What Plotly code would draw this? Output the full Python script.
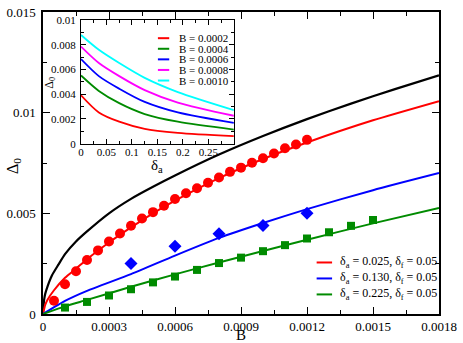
import numpy as np
import plotly.graph_objects as go

# ---------------- data ----------------
# main panel: symbols
B_red_pts = [0.00005, 0.0001, 0.00015, 0.0002, 0.00025, 0.0003, 0.00035, 0.0004,
             0.00045, 0.0005, 0.00055, 0.0006, 0.00065, 0.0007, 0.00075, 0.0008,
             0.00085, 0.0009, 0.00095, 0.001, 0.00105, 0.0011, 0.00115, 0.0012]
red_pts = [0.00066, 0.00148, 0.00212, 0.00268, 0.00316, 0.0036, 0.0040, 0.00438,
           0.00474, 0.00506, 0.00538, 0.00571, 0.0060, 0.00625, 0.00652, 0.00678,
           0.00706, 0.00727, 0.00751, 0.00774, 0.00797, 0.00823, 0.00842, 0.00865]
B_blue_pts = [0.0004, 0.0006, 0.0008, 0.001, 0.0012]
blue_pts = [0.00251, 0.00337, 0.00399, 0.0044, 0.0050]
B_green_pts = [0.0001, 0.0002, 0.0003, 0.0004, 0.0005, 0.0006, 0.0007, 0.0008,
               0.0009, 0.001, 0.0011, 0.0012, 0.0013, 0.0014, 0.0015]
green_pts = [0.00032, 0.0006, 0.00092, 0.00123, 0.00157, 0.00186, 0.00219, 0.00253,
             0.0028, 0.00312, 0.00342, 0.00375, 0.00406, 0.00438, 0.00467]

# main panel: curves
B_black = [0, 0.000005, 0.00001, 0.00002, 0.00004, 0.00007, 0.0001, 0.00015, 0.0002,
           0.0003, 0.0004, 0.0005, 0.0006, 0.0008, 0.001, 0.0012, 0.0014, 0.0016, 0.0018]
black_line = [0, 0.0007, 0.001, 0.00135, 0.0019, 0.00245, 0.00297, 0.0036, 0.0041,
              0.0050, 0.00572, 0.00632, 0.00688, 0.00792, 0.00884, 0.00968, 0.01045,
              0.01117, 0.01185]
B_red_line = [0, 0.00001, 0.00002, 0.00005, 0.0001, 0.00015, 0.0002, 0.0003, 0.0004,
              0.0005, 0.0006, 0.0008, 0.001, 0.0012, 0.0015, 0.0018]
red_line = [0, 0.00045, 0.0007, 0.00118, 0.0018, 0.00225, 0.00272, 0.00355, 0.0043,
            0.0050, 0.00563, 0.00675, 0.0077, 0.00852, 0.00962, 0.01057]
B_blue_line = [0, 0.0001, 0.0002, 0.0004, 0.0006, 0.0008, 0.001, 0.0012, 0.0015, 0.0018]
blue_line = [0, 0.00065, 0.00115, 0.00198, 0.0029, 0.00378, 0.00452, 0.00521, 0.00615, 0.0070]
B_green_line = [0, 0.0001, 0.0002, 0.0004, 0.0006, 0.0008, 0.001, 0.0012, 0.0015, 0.0018]
green_line = [0, 0.00038, 0.0007, 0.00135, 0.00197, 0.00256, 0.00313, 0.00369, 0.0045, 0.00527]

main_labels = ["δ<sub>a</sub> = 0.025, δ<sub>f</sub> = 0.05",
               "δ<sub>a</sub> = 0.130, δ<sub>f</sub> = 0.05",
               "δ<sub>a</sub> = 0.225, δ<sub>f</sub> = 0.05"]

# inset: Delta_0 vs delta_a for several B
delta_a = [0, 0.035, 0.075, 0.125, 0.19, 0.3]
inset_labels = ["B = 0.0002", "B = 0.0004", "B = 0.0006", "B = 0.0008", "B = 0.0010"]
inset_curves = [
    [0.00392, 0.00253, 0.00178, 0.0012, 0.00088, 0.00061],
    [0.00552, 0.00427, 0.00328, 0.0024, 0.00178, 0.00114],
    [0.00685, 0.00547, 0.00445, 0.00338, 0.00253, 0.00168],
    [0.00786, 0.00653, 0.00547, 0.00434, 0.00333, 0.00226],
    [0.0088, 0.0076, 0.00653, 0.00533, 0.00418, 0.00272],
]

# tick labels
main_x_ticks = [0, 0.0003, 0.0006, 0.0009, 0.0012, 0.0015, 0.0018]
main_x_text = ["0", "0.0003", "0.0006", "0.0009", "0.0012", "0.0015", "0.0018"]
main_y_ticks = [0, 0.005, 0.01, 0.015]
main_y_text = ["0", "0.005", "0.01", "0.015"]
inset_x_ticks = [0, 0.05, 0.1, 0.15, 0.2, 0.25]
inset_x_text = ["0", "0.05", "0.1", "0.15", "0.2", "0.25"]
inset_y_ticks = [0, 0.002, 0.004, 0.006, 0.008, 0.01]
inset_y_text = ["0", "0.002", "0.004", "0.006", "0.008", "0.01"]

# ---------------- styles ----------------
RED, BLUE, GREEN, BLACK = "#ff0000", "#0000ff", "#008b00", "#000000"
inset_colors = ["#ff0000", "#008b00", "#0000ff", "#ff00ff", "#00ffff"]
FONT = "Liberation Serif"

fig = go.Figure()

# main curves
fig.add_trace(go.Scatter(x=B_black, y=black_line, mode="lines",
                         line=dict(color=BLACK, width=2.2, shape="spline", smoothing=0.6),
                         showlegend=False))
fig.add_trace(go.Scatter(x=B_red_line, y=red_line, mode="lines",
                         line=dict(color=RED, width=2, shape="spline", smoothing=0.6),
                         showlegend=False))
fig.add_trace(go.Scatter(x=B_blue_line, y=blue_line, mode="lines",
                         line=dict(color=BLUE, width=2, shape="spline", smoothing=0.6),
                         showlegend=False))
fig.add_trace(go.Scatter(x=B_green_line, y=green_line, mode="lines",
                         line=dict(color=GREEN, width=2, shape="spline", smoothing=0.6),
                         showlegend=False))
# symbols
fig.add_trace(go.Scatter(x=B_red_pts, y=red_pts, mode="markers",
                         marker=dict(symbol="circle", size=10, color=RED), showlegend=False))
fig.add_trace(go.Scatter(x=B_blue_pts, y=blue_pts, mode="markers",
                         marker=dict(symbol="diamond", size=10, color=BLUE), showlegend=False))
fig.add_trace(go.Scatter(x=B_green_pts, y=green_pts, mode="markers",
                         marker=dict(symbol="square", size=8, color=GREEN), showlegend=False))

# inset curves
for vals, col in zip(inset_curves, inset_colors):
    fig.add_trace(go.Scatter(x=delta_a, y=vals, mode="lines", xaxis="x2", yaxis="y2",
                             line=dict(color=col, width=1.8, shape="spline", smoothing=0.8),
                             showlegend=False))

# manual legends (compact spacing as in the reference)
shapes, annots = [], []
for i, (lab, col) in enumerate(zip(main_labels, [RED, BLUE, GREEN])):
    yy = 0.1706 - i * 0.0529
    shapes.append(dict(type="line", xref="x domain", yref="y domain",
                       x0=0.691, x1=0.730, y0=yy, y1=yy, line=dict(color=col, width=2)))
    annots.append(dict(xref="x domain", yref="y domain", x=0.745, y=yy, text=lab,
                       showarrow=False, xanchor="left", yanchor="middle",
                       font=dict(family=FONT, size=12, color="black")))
for i, (lab, col) in enumerate(zip(inset_labels, inset_colors)):
    yy = 0.854 - i * 0.0857
    shapes.append(dict(type="line", xref="x2 domain", yref="y2 domain",
                       x0=0.503, x1=0.577, y0=yy, y1=yy, line=dict(color=col, width=2)))
    annots.append(dict(xref="x2 domain", yref="y2 domain", x=0.625, y=yy, text=lab,
                       showarrow=False, xanchor="left", yanchor="middle",
                       font=dict(family=FONT, size=11, color="black")))

# axis titles
annots.append(dict(xref="x domain", yref="y domain", x=0.5, y=-0.071, text="B",
                   showarrow=False, xanchor="center", yanchor="middle",
                   font=dict(family=FONT, size=15, color="black")))
annots.append(dict(xref="x domain", yref="y domain", x=-0.076, y=0.49, text="Δ<sub>0</sub>",
                   showarrow=False, xanchor="center", yanchor="middle", textangle=-90,
                   font=dict(family=FONT, size=16, color="black")))
annots.append(dict(xref="x2 domain", yref="y2 domain", x=0.5, y=-0.18, text="δ<sub>a</sub>",
                   showarrow=False, xanchor="center", yanchor="middle",
                   font=dict(family=FONT, size=15, color="black")))
annots.append(dict(xref="x2 domain", yref="y2 domain", x=-0.205, y=0.49, text="Δ<sub>0</sub>",
                   showarrow=False, xanchor="center", yanchor="middle", textangle=-90,
                   font=dict(family=FONT, size=12, color="black")))

axis_common = dict(showgrid=False, zeroline=False, showline=True, linecolor="black",
                   mirror="ticks", ticks="inside", tickcolor="black", tickmode="array")

fig.update_layout(
    width=463, height=343,
    margin=dict(l=40.7, r=18, t=6, b=28.7),
    paper_bgcolor="white", plot_bgcolor="white",
    font=dict(family=FONT, color="black"),
    showlegend=False,
    shapes=shapes, annotations=annots,
    xaxis=dict(axis_common, range=[0, 0.0018], tickvals=main_x_ticks, ticktext=main_x_text,
               linewidth=1.5, ticklen=7, tickwidth=1.2, ticklabelstandoff=0,
               tickfont=dict(family=FONT, size=13),
               minor=dict(tickvals=list(np.arange(0.00015, 0.0018, 0.0003)), ticklen=4,
                          ticks="inside", tickcolor="black", tickwidth=1)),
    yaxis=dict(axis_common, range=[0, 0.015], tickvals=main_y_ticks, ticktext=main_y_text,
               linewidth=1.5, ticklen=7, tickwidth=1.2, ticklabelstandoff=3,
               tickfont=dict(family=FONT, size=13),
               minor=dict(tickvals=list(np.arange(0.0025, 0.015, 0.005)), ticklen=4,
                          ticks="inside", tickcolor="black", tickwidth=1)),
    xaxis2=dict(axis_common, domain=[0.096, 0.482], anchor="y2", range=[0, 0.3],
                tickvals=inset_x_ticks, ticktext=inset_x_text,
                linewidth=1, ticklen=5, tickwidth=1, ticklabelstandoff=-2,
                tickfont=dict(family=FONT, size=11),
                minor=dict(tickvals=list(np.arange(0.025, 0.3, 0.05)), ticklen=3,
                           ticks="inside", tickcolor="black", tickwidth=1)),
    yaxis2=dict(axis_common, domain=[0.564, 0.973], anchor="x2", range=[0, 0.01],
                tickvals=inset_y_ticks, ticktext=inset_y_text,
                linewidth=1, ticklen=5, tickwidth=1, ticklabelstandoff=2,
                tickfont=dict(family=FONT, size=11),
                minor=dict(tickvals=list(np.arange(0.001, 0.01, 0.002)), ticklen=3,
                           ticks="inside", tickcolor="black", tickwidth=1)),
)

fig.write_html("out.html", config={"displayModeBar": False},
               post_script="document.body.style.margin='0px';")
